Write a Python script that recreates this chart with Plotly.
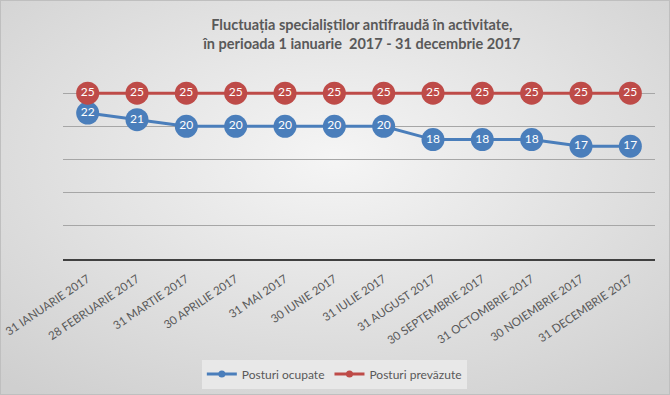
import base64
import plotly.graph_objects as go

categories = ["31 IANUARIE 2017", "28 FEBRUARIE 2017", "31 MARTIE 2017", "30 APRILIE 2017",
              "31 MAI 2017", "30 IUNIE 2017", "31 IULIE 2017", "31 AUGUST 2017",
              "30 SEPTEMBRIE 2017", "31 OCTOMBRIE 2017", "30 NOIEMBRIE 2017", "31 DECEMBRIE 2017"]
posturi_ocupate = [22, 21, 20, 20, 20, 20, 20, 18, 18, 18, 17, 17]
posturi_prevazute = [25, 25, 25, 25, 25, 25, 25, 25, 25, 25, 25, 25]

W, H = 670, 395
L, R, T, B = 63, 15, 60, 136
pw, ph = W - L - R, H - T - B

svg = f'''<svg xmlns="http://www.w3.org/2000/svg" width="{W}" height="{H}">
<defs><radialGradient id="g" cx="50%" cy="40%" r="75%">
<stop offset="0%" stop-color="#f5f5f5"/><stop offset="100%" stop-color="#cfcfcf"/></radialGradient></defs>
<rect x="0" y="0" width="{W}" height="{H}" fill="url(#g)"/>
<rect x="0.5" y="0.5" width="{W-1}" height="{H-1}" fill="none" stroke="#bfbfbf" stroke-width="1"/>
</svg>'''
src = "data:image/svg+xml;base64," + base64.b64encode(svg.encode()).decode()

font = "Lato, 'Open Sans', sans-serif"
blue = "#4a7ebb"
red = "#be4b48"

fig = go.Figure()
for name, vals, col in [("Posturi ocupate", posturi_ocupate, blue),
                        ("Posturi prevăzute", posturi_prevazute, red)]:
    fig.add_trace(go.Scatter(
        x=categories, y=vals, name=name, showlegend=False,
        mode="lines+markers+text", text=[str(v) for v in vals],
        textposition="middle center", textfont=dict(color="white", size=12, family=font),
        line=dict(color=col, width=3), marker=dict(size=23, color=col),
    ))
for name, col in [("Posturi ocupate", blue), ("Posturi prevăzute", red)]:
    fig.add_trace(go.Scatter(
        x=[None], y=[None], name=name, mode="lines+markers",
        line=dict(color=col, width=3), marker=dict(size=7, color=col),
    ))

fig.update_layout(
    width=W, height=H,
    margin=dict(l=L, r=R, t=T, b=B, autoexpand=False),
    paper_bgcolor="#e6e6e6", plot_bgcolor="rgba(0,0,0,0)",
    images=[dict(source=src, xref="paper", yref="paper",
                 x=-L / pw, y=1 + T / ph, sizex=W / pw, sizey=H / ph,
                 xanchor="left", yanchor="top", sizing="stretch", layer="below")],
    title=dict(text="<b>Fluctuația specialiștilor antifraudă în activitate,<br>în perioada 1 ianuarie  2017 - 31 decembrie 2017</b>",
               x=0.54, xanchor="center", y=0.924, yanchor="middle",
               font=dict(size=14.5, color="#595959", family=font)),
    xaxis=dict(tickangle=-34, tickfont=dict(size=11.5, color="#595959", family=font),
               ticklabelstandoff=7,
               showgrid=False, showline=True, linecolor="#404040", linewidth=2,
               ticks="", range=[-0.5, 11.5], fixedrange=True, automargin=False),
    yaxis=dict(range=[0, 30], dtick=5, showticklabels=False, showgrid=True,
               gridcolor="#a6a6a6", gridwidth=1, zeroline=False, showline=False,
               fixedrange=True, automargin=False),
    legend=dict(orientation="h", xref="container", yref="container",
                x=0.499, y=0.053, xanchor="center", yanchor="middle",
                bgcolor="#e8e8e8", font=dict(size=12, color="#595959", family=font),
                itemwidth=30, tracegroupgap=0),
    showlegend=True,
)
fig.write_html("out.html", config=dict(displayModeBar=False),
               post_script="document.body.style.margin='0';")
